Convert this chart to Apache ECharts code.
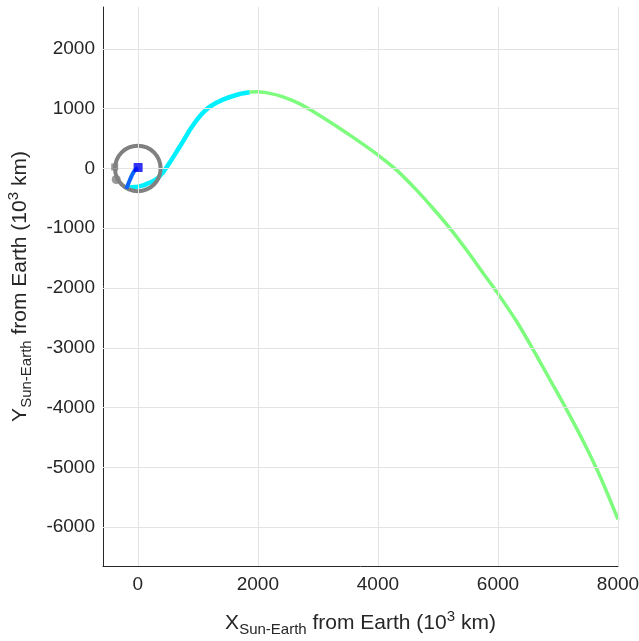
<!DOCTYPE html>
<html>
<head>
<meta charset="utf-8">
<script src="https://cdn.jsdelivr.net/npm/echarts@6/dist/echarts.min.js"></script>
<style>html,body{margin:0;padding:0;background:#fff}#c{width:639px;height:641px}</style>
</head>
<body>
<div id="c"></div>
<script>
// Tick values
const xTicks = [0, 2000, 4000, 6000, 8000];
const yTicks = [-6000, -5000, -4000, -3000, -2000, -1000, 0, 1000, 2000];

// Trajectory segments (10^3 km)
const blueX = [-194, -170, -140, -110, -80, -50, -20, 0];
const blueY = [-340, -285, -210, -140, -80, -35, -5, 10];

const cyanX = [-194, -138, -60, 0, 90, 167, 250, 334, 380, 440, 530, 640, 760, 880, 1030, 1196, 1418, 1697, 1864];
const cyanY = [-340, -318, -312, -305, -285, -251, -215, -160, -110, -40, 95, 270, 465, 665, 870, 1030, 1150, 1245, 1275];

const greenX = [1864, 2002, 2200, 2419, 2700, 2977, 3250, 3532, 3780, 4005, 4312, 4645, 4920, 5201, 5480, 5757, 5997, 6314, 6591, 6870, 7148, 7425, 7704, 8000];
const greenY = [1278, 1281, 1255, 1197, 1080, 920, 745, 557, 385, 222, -28, -363, -670, -1003, -1370, -1756, -2090, -2565, -3038, -3540, -4042, -4572, -5157, -5870];

// Moon orbit read around Earth
const moonX = [380, 351, 269, 146, 0, -146, -269, -351, -380, -351, -269, -146, 0, 146, 269, 351, 380];
const moonY = [0, 146, 269, 351, 380, 351, 269, 146, 0, -146, -269, -351, -380, -351, -269, -146, 0];

// Markers
const earthPos = [[5, 15]];
const moonSquarePos = [[-385, 25]];
const moonCirclePos = [[-360, -185]];

const zip = (a, b) => a.map((v, i) => [v, b[i]]);
const txt = '#262626';
const font = 'Liberation Sans, Arial, Helvetica, sans-serif';
const titleRich = {
  a: {fontSize: 21, fontFamily: font, color: txt, lineHeight: 28, verticalAlign: 'middle'},
  sub: {fontSize: 15, fontFamily: font, color: txt, lineHeight: 16, padding: [16, 0, 0, 0], verticalAlign: 'bottom'},
  sup: {fontSize: 15, fontFamily: font, color: txt, lineHeight: 16, padding: [0, 0, 14, 0], verticalAlign: 'top'}
};

const chart = echarts.init(document.getElementById('c'), null, {renderer: 'canvas'});
chart.setOption({
  animation: false,
  backgroundColor: '#fff',
  grid: {left: 103, right: 21, top: 7, bottom: 75, containLabel: false, outerBoundsMode: 'none'},
  xAxis: {
    type: 'value', min: -580, max: 8000,
    axisLine: {show: true, onZero: false, lineStyle: {color: txt, width: 1}},
    axisTick: {show: true, inside: true, length: 6, customValues: xTicks, lineStyle: {color: txt}},
    axisLabel: {customValues: xTicks, color: txt, fontSize: 19, fontFamily: font, margin: 9,
                formatter: v => String(v)},
    splitLine: {show: false},
    name: '{a|X}{sub|Sun-Earth}{a| from Earth (10}{sup|3}{a| km)}',
    nameLocation: 'middle', nameGap: 43,
    nameTextStyle: {color: txt, fontFamily: font, rich: titleRich}
  },
  yAxis: {
    type: 'value', min: -6650, max: 2700,
    axisLine: {show: true, onZero: false, lineStyle: {color: txt, width: 1}},
    axisTick: {show: true, inside: true, length: 6, customValues: yTicks, lineStyle: {color: txt}},
    axisLabel: {customValues: yTicks, color: txt, fontSize: 19, fontFamily: font, margin: 8,
                formatter: v => String(v)},
    splitLine: {show: false},
    name: '{a|Y}{sub|Sun-Earth}{a| from Earth (10}{sup|3}{a| km)}',
    nameLocation: 'middle', nameGap: 68, nameRotate: 90,
    nameTextStyle: {color: txt, fontFamily: font, rich: titleRich}
  },
  series: [
    {
      type: 'line', data: [], z: 1, silent: true,
      markLine: {
        silent: true, symbol: ['none', 'none'], label: {show: false},
        lineStyle: {color: '#e3e3e3', width: 1, type: 'solid'},
        emphasis: {disabled: true},
        data: xTicks.map(v => ({xAxis: v})).concat(yTicks.map(v => ({yAxis: v})))
      }
    },
    {type: 'line', data: zip(cyanX, cyanY), smooth: 0.3, showSymbol: false, z: 3, silent: true,
     lineStyle: {color: '#00f0ff', width: 4.5}},
    {type: 'line', data: zip(greenX, greenY), smooth: 0.3, showSymbol: false, z: 3, silent: true,
     lineStyle: {color: '#7dfc7d', width: 3.5}},
    {type: 'line', data: zip(moonX, moonY), smooth: 0.5, showSymbol: false, z: 4, silent: true,
     lineStyle: {color: '#808080', width: 4}},
    {type: 'line', data: zip(blueX, blueY), smooth: 0.3, showSymbol: false, z: 5, silent: true,
     lineStyle: {color: '#0a64ff', width: 4}},
    {type: 'scatter', data: earthPos, symbol: 'rect', symbolSize: 9, z: 6, silent: true,
     itemStyle: {color: '#0000f0'}},
    {type: 'scatter', data: moonSquarePos, symbol: 'rect', symbolSize: 7, z: 6, silent: true,
     itemStyle: {color: '#808080'}},
    {type: 'scatter', data: moonCirclePos, symbol: 'circle', symbolSize: 9, z: 6, silent: true,
     itemStyle: {color: '#808080'}}
  ]
});
</script>
</body>
</html>
